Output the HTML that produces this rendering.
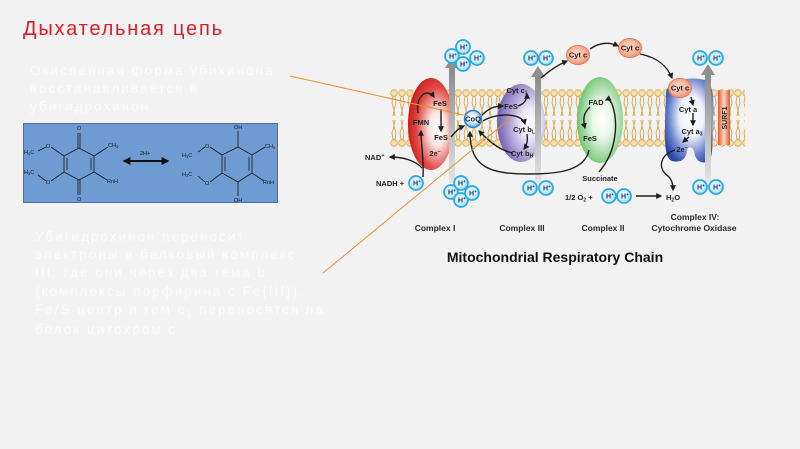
<!DOCTYPE html>
<html><head><meta charset="utf-8">
<style>
html,body{margin:0;padding:0;}
body{width:800px;height:449px;background:#f2f2f2;overflow:hidden;font-family:"Liberation Sans",sans-serif;}
svg{position:absolute;left:0;top:0;}
.w{fill:#fbfbfb;font-size:13.5px;letter-spacing:2px;}
.h{fill:url(#hg);stroke:#2aa8e0;stroke-width:1.7;}
.ht{font-size:7px;font-weight:bold;fill:#10306a;}
.lb{font-size:7.5px;font-weight:bold;fill:#1e1e1e;}
.cl{font-size:8.5px;font-weight:bold;fill:#2a2a2a;}
.ar{fill:none;stroke:#1e1e1e;stroke-width:1.4;marker-end:url(#ah);}
.ch{stroke:#1a1a1a;stroke-width:0.8;fill:none;}
.ct{font-size:5.5px;fill:#1a1a1a;}
</style></head><body>
<svg width="800" height="449" viewBox="0 0 800 449" xmlns="http://www.w3.org/2000/svg">
<defs>
 <radialGradient id="hg" cx="0.45" cy="0.45" r="0.6"><stop offset="0" stop-color="#ffffff"/><stop offset="0.55" stop-color="#d0f0fd"/><stop offset="1" stop-color="#6fcdf3"/></radialGradient>
 <radialGradient id="cg" cx="0.45" cy="0.45" r="0.6"><stop offset="0" stop-color="#fde0d4"/><stop offset="0.6" stop-color="#f6b39a"/><stop offset="1" stop-color="#ec8a6c"/></radialGradient>
 <radialGradient id="qg" cx="0.45" cy="0.45" r="0.6"><stop offset="0" stop-color="#ffffff"/><stop offset="0.55" stop-color="#cfe9fb"/><stop offset="1" stop-color="#3b9be0"/></radialGradient>
 <radialGradient id="g1" cx="0.64" cy="0.55" r="0.62"><stop offset="0" stop-color="#ffffff"/><stop offset="0.3" stop-color="#fbe3e0"/><stop offset="0.72" stop-color="#e04c48"/><stop offset="1" stop-color="#cc1f1f"/></radialGradient>
 <radialGradient id="g3" cx="0.7" cy="0.5" r="0.65"><stop offset="0" stop-color="#ffffff"/><stop offset="0.3" stop-color="#ece8f6"/><stop offset="0.75" stop-color="#a296d0"/><stop offset="1" stop-color="#7a69b6"/></radialGradient>
 <radialGradient id="g2" cx="0.55" cy="0.5" r="0.62"><stop offset="0" stop-color="#ffffff"/><stop offset="0.35" stop-color="#e8f6e8"/><stop offset="0.75" stop-color="#8fd18f"/><stop offset="1" stop-color="#4cb74c"/></radialGradient>
 <radialGradient id="g4" cx="0.55" cy="0.45" r="0.62"><stop offset="0" stop-color="#ffffff"/><stop offset="0.4" stop-color="#eef1fa"/><stop offset="0.75" stop-color="#6f86cf"/><stop offset="1" stop-color="#2a4aa8"/></radialGradient>
 <linearGradient id="gr" x1="0" y1="1" x2="0" y2="0"><stop offset="0" stop-color="#e4e4e4"/><stop offset="1" stop-color="#8a8a8a"/></linearGradient>
 <linearGradient id="sg" x1="0" y1="0" x2="1" y2="0"><stop offset="0" stop-color="#e4572e"/><stop offset="0.5" stop-color="#fcd8c6"/><stop offset="1" stop-color="#e4572e"/></linearGradient>
 <marker id="ah" viewBox="0 0 10 10" refX="8" refY="5" markerWidth="6" markerHeight="6" markerUnits="userSpaceOnUse" orient="auto"><path d="M0,0 L10,5 L0,10 z" fill="#1e1e1e"/></marker>
 <marker id="bh" viewBox="0 0 10 10" refX="8" refY="5" markerWidth="8" markerHeight="8" markerUnits="userSpaceOnUse" orient="auto-start-reverse"><path d="M0,0 L10,5 L0,10 z" fill="#111"/></marker>
 <pattern id="lip" x="390" y="89" width="8" height="58" patternUnits="userSpaceOnUse">
  <path d="M3 7 L2 14 L4 21 L3 27 M5 7 L6 14 L4 21 L5 27 M3 51 L2 44 L4 37 L3 31 M5 51 L6 44 L4 37 L5 31" stroke="#d8ab58" stroke-width="1" fill="none"/>
  <circle cx="4" cy="4" r="3.3" fill="#f6dfa8" stroke="#d8a954" stroke-width="0.8"/>
  <circle cx="4" cy="54" r="3.3" fill="#f6dfa8" stroke="#d8a954" stroke-width="0.8"/>
 </pattern>
</defs>

<!-- Title and texts -->
<text x="23" y="35" font-size="20" letter-spacing="1.8" fill="#dc1c24">Дыхательная цепь</text>
<text class="w" x="30" y="75">Окисленная форма убихинона</text>
<text class="w" x="30" y="93">восстанавливается в</text>
<text class="w" x="30" y="111">убигидрохинон.</text>
<text class="w" x="35" y="241">Убигидрохинон переносит</text>
<text class="w" x="35" y="259">электроны в белковый комплекс</text>
<text class="w" x="35" y="277">III, где они через два гема b</text>
<text class="w" x="35" y="296">(комплексы порфирина с Fe(III)),</text>
<text class="w" x="35" y="314">Fe/S центр и гем c<tspan font-size="9" dy="3">1</tspan><tspan dy="-3"> переносятся на</tspan></text>
<text class="w" x="35" y="334">белок цитохром c.</text>

<!-- chemistry box -->
<rect x="23.5" y="123.5" width="254" height="79" fill="#6e9bd2" stroke="#4d6fa3" stroke-width="1"/>
<g class="ch">
 <path d="M79 148 L94 156 L94 172 L79 180 L64 172 L64 156 Z"/>
 <path d="M67 158 L67 170 M91 158 L91 170"/>
 <path d="M78 133 L78 148 M80 133 L80 148 M78 180 L78 195 M80 180 L80 195"/>
 <path d="M94 156 L108 147 M94 172 L107 180"/>
 <path d="M64 156 L51 147 M46 147 L38 151 M64 172 L51 181 M46 181 L38 175"/>
 <path d="M238 147 L252 155 L252 173 L238 182 L222 173 L222 155 Z"/>
 <path d="M225 157 L225 171 M249 157 L249 171"/>
 <path d="M238 147 L238 131 M238 182 L238 196"/>
 <path d="M252 155 L265 147 M252 173 L264 181"/>
 <path d="M222 155 L210 147 M205 147 L198 152 M222 173 L210 182 M205 182 L198 176"/>
</g>
<line x1="124" y1="161" x2="168" y2="161" stroke="#111" stroke-width="2" marker-end="url(#bh)" marker-start="url(#bh)"/>
<text class="ct" x="140" y="155">2H+</text>
<text class="ct" x="77" y="130">O</text>
<text class="ct" x="77" y="201">O</text>
<text class="ct" x="108" y="147">CH<tspan font-size="4" dy="1">3</tspan></text>
<text class="ct" x="107" y="183">RnH</text>
<text class="ct" x="46" y="148">O</text>
<text class="ct" x="46" y="184">O</text>
<text class="ct" x="24" y="154">H<tspan font-size="4" dy="1">3</tspan><tspan dy="-1">C</tspan></text>
<text class="ct" x="24" y="174">H<tspan font-size="4" dy="1">3</tspan><tspan dy="-1">C</tspan></text>
<text class="ct" x="234" y="129">OH</text>
<text class="ct" x="234" y="202">OH</text>
<text class="ct" x="265" y="148">CH<tspan font-size="4" dy="1">3</tspan></text>
<text class="ct" x="263" y="184">RnH</text>
<text class="ct" x="205" y="148">O</text>
<text class="ct" x="205" y="185">O</text>
<text class="ct" x="182" y="157">H<tspan font-size="4" dy="1">3</tspan><tspan dy="-1">C</tspan></text>
<text class="ct" x="182" y="176">H<tspan font-size="4" dy="1">3</tspan><tspan dy="-1">C</tspan></text>

<!-- membrane -->
<rect x="390" y="89" width="355" height="58" fill="url(#lip)"/>

<!-- complexes -->
<ellipse cx="431" cy="124" rx="23" ry="46" fill="url(#g1)"/>
<ellipse cx="521" cy="123" rx="24" ry="39" fill="url(#g3)"/>
<ellipse cx="600" cy="120" rx="23" ry="43" fill="url(#g2)"/>
<path d="M666 95 C665 80 690 76 705 80 C714 84 714 100 713 120 C712 140 714 158 708 162 C700 164 695 160 694 151 C692 146 688 146 687 151 C686 160 680 163 672 161 C664 158 665 140 665 120 Z" fill="url(#g4)"/>
<rect x="718" y="90" width="12" height="55" fill="url(#sg)"/>
<text x="727" y="118" font-size="7" font-weight="bold" fill="#222" text-anchor="middle" transform="rotate(-90 727 118)">SURF1</text>

<!-- grey arrows -->
<g fill="url(#gr)">
 <rect x="449" y="67" width="6" height="116"/><polygon points="445,68 459,68 452,57" fill="#8f8f8f"/>
 <rect x="535" y="76" width="6" height="106"/><polygon points="531,77 545,77 538,66" fill="#8f8f8f"/>
 <rect x="705" y="74" width="6" height="108"/><polygon points="701,75 715,75 708,64" fill="#8f8f8f"/>
</g>

<!-- cyt c circles and CoQ -->
<ellipse cx="578" cy="55" rx="11.5" ry="9.5" fill="url(#cg)" stroke="#e47a5c" stroke-width="1"/>
<ellipse cx="630" cy="48" rx="11.5" ry="9.5" fill="url(#cg)" stroke="#e47a5c" stroke-width="1"/>
<ellipse cx="680" cy="88" rx="11.5" ry="9.5" fill="url(#cg)" stroke="#e47a5c" stroke-width="1"/>
<circle cx="473" cy="119" r="8.5" fill="url(#qg)" stroke="#2a86d4" stroke-width="1.5"/>

<!-- black arrows -->
<path class="ar" d="M423 177 C424 160 421 145 421 131"/>
<path class="ar" d="M422 168 C415 160 402 157 390 157"/>
<path class="ar" d="M418 113 C415 95 428 88 434 97"/>
<path class="ar" d="M441 109 L441 131"/>
<path class="ar" d="M451 137 C456 131 459 128 464 126"/>
<path class="ar" d="M482 115 C489 108 495 106 503 106"/>
<path class="ar" d="M518 106 C524 104 527 100 527 94"/>
<path class="ar" d="M483 121 C495 113 522 112 525 124"/>
<path class="ar" d="M527 134 C528 140 527 145 524 149"/>
<path class="ar" d="M513 153 C498 150 488 140 479 131"/>
<path class="ar" d="M589 150 C585 170 560 174 530 174 C490 174 470 168 470 132"/>
<path class="ar" d="M541 78 C550 70 560 64 567 61"/>
<path class="ar" d="M590 49 C600 42 610 42 618 46"/>
<path class="ar" d="M640 54 C660 58 668 68 672 78"/>
<path class="ar" d="M691 97 L693 105"/>
<path class="ar" d="M693 113 L693 125"/>
<path class="ar" d="M689 137 L683 142"/>
<path class="ar" d="M675 150 C660 155 657 168 668 176 C672 180 673 184 673 190"/>
<path class="ar" d="M636 196 L661 196"/>
<path class="ar" d="M599 172 C618 150 618 120 612 104 C610 100 608 99 606 100"/>
<path class="ar" d="M590 107 C583 113 583 120 585 128"/>

<!-- labels inside diagram -->
<text class="lb" x="365" y="160">NAD<tspan dy="-3" font-size="5.5">+</tspan></text>
<text class="lb" x="376" y="186">NADH +</text>
<text class="lb" x="421" y="125" text-anchor="middle">FMN</text>
<text class="lb" x="440" y="106" text-anchor="middle">FeS</text>
<text class="lb" x="441" y="140" text-anchor="middle">FeS</text>
<text class="lb" x="435" y="156" text-anchor="middle">2e<tspan dy="-3" font-size="5">−</tspan></text>
<text class="lb" x="473" y="121.5" text-anchor="middle" font-size="6">CoQ</text>
<text class="lb" x="517" y="93" text-anchor="middle" font-size="7">Cyt c<tspan font-size="5" dy="1.5">1</tspan></text>
<text class="lb" x="511" y="109" text-anchor="middle">FeS</text>
<text class="lb" x="524" y="132" text-anchor="middle" font-size="7">Cyt b<tspan font-size="5" dy="1.5">L</tspan></text>
<text class="lb" x="522" y="156" text-anchor="middle" font-size="7">Cyt b<tspan font-size="5" dy="1.5">H</tspan></text>
<text class="lb" x="578" y="57.5" text-anchor="middle" font-size="7">Cyt c</text>
<text class="lb" x="630" y="50.5" text-anchor="middle" font-size="7">Cyt c</text>
<text class="lb" x="680" y="90.5" text-anchor="middle" font-size="7">Cyt c</text>
<text class="lb" x="688" y="112" text-anchor="middle" font-size="7">Cyt a</text>
<text class="lb" x="692" y="134" text-anchor="middle" font-size="7">Cyt a<tspan font-size="5" dy="1.5">3</tspan></text>
<text class="lb" x="682" y="152" text-anchor="middle">2e<tspan dy="-3" font-size="5">−</tspan></text>
<text class="lb" x="596" y="105" text-anchor="middle">FAD</text>
<text class="lb" x="590" y="141" text-anchor="middle">FeS</text>
<text class="lb" x="600" y="181" text-anchor="middle" font-size="7" font-weight="normal">Succinate</text>
<text class="lb" x="565" y="200" font-size="7">1/2 O<tspan font-size="5" dy="1.5">2</tspan><tspan dy="-1.5"> +</tspan></text>
<text class="lb" x="666" y="200">H<tspan font-size="5" dy="1.5">2</tspan><tspan dy="-1.5">O</tspan></text>

<!-- H+ circles -->
<g>
 <circle class="h" cx="452" cy="56" r="7"/><circle class="h" cx="463" cy="47" r="7"/><circle class="h" cx="463" cy="64" r="7"/><circle class="h" cx="477" cy="58" r="7"/>
 <circle class="h" cx="451" cy="192" r="7"/><circle class="h" cx="461" cy="183" r="7"/><circle class="h" cx="461" cy="200" r="7"/><circle class="h" cx="472" cy="193" r="7"/>
 <circle class="h" cx="416" cy="183" r="7"/>
 <circle class="h" cx="531" cy="58" r="7"/><circle class="h" cx="546" cy="58" r="7"/>
 <circle class="h" cx="530" cy="188" r="7"/><circle class="h" cx="546" cy="188" r="7"/>
 <circle class="h" cx="700" cy="58" r="7"/><circle class="h" cx="716" cy="58" r="7"/>
 <circle class="h" cx="700" cy="187" r="7"/><circle class="h" cx="716" cy="187" r="7"/>
 <circle class="h" cx="609" cy="196" r="7"/><circle class="h" cx="624" cy="196" r="7"/>
</g>
<g class="ht">
 <text x="449" y="58.5">H<tspan dy="-2.5" font-size="4.5">+</tspan></text>
 <text x="460" y="49.5">H<tspan dy="-2.5" font-size="4.5">+</tspan></text>
 <text x="460" y="66.5">H<tspan dy="-2.5" font-size="4.5">+</tspan></text>
 <text x="474" y="60.5">H<tspan dy="-2.5" font-size="4.5">+</tspan></text>
 <text x="448" y="194.5">H<tspan dy="-2.5" font-size="4.5">+</tspan></text>
 <text x="458" y="185.5">H<tspan dy="-2.5" font-size="4.5">+</tspan></text>
 <text x="458" y="202.5">H<tspan dy="-2.5" font-size="4.5">+</tspan></text>
 <text x="469" y="195.5">H<tspan dy="-2.5" font-size="4.5">+</tspan></text>
 <text x="413" y="185.5">H<tspan dy="-2.5" font-size="4.5">+</tspan></text>
 <text x="528" y="60.5">H<tspan dy="-2.5" font-size="4.5">+</tspan></text>
 <text x="543" y="60.5">H<tspan dy="-2.5" font-size="4.5">+</tspan></text>
 <text x="527" y="190.5">H<tspan dy="-2.5" font-size="4.5">+</tspan></text>
 <text x="543" y="190.5">H<tspan dy="-2.5" font-size="4.5">+</tspan></text>
 <text x="697" y="60.5">H<tspan dy="-2.5" font-size="4.5">+</tspan></text>
 <text x="713" y="60.5">H<tspan dy="-2.5" font-size="4.5">+</tspan></text>
 <text x="697" y="189.5">H<tspan dy="-2.5" font-size="4.5">+</tspan></text>
 <text x="713" y="189.5">H<tspan dy="-2.5" font-size="4.5">+</tspan></text>
 <text x="606" y="198.5">H<tspan dy="-2.5" font-size="4.5">+</tspan></text>
 <text x="621" y="198.5">H<tspan dy="-2.5" font-size="4.5">+</tspan></text>
</g>

<!-- complex labels -->
<text class="cl" x="435" y="231" text-anchor="middle">Complex I</text>
<text class="cl" x="522" y="231" text-anchor="middle">Complex III</text>
<text class="cl" x="603" y="231" text-anchor="middle">Complex II</text>
<text class="cl" x="695" y="220" text-anchor="middle">Complex IV:</text>
<text class="cl" x="694" y="231" text-anchor="middle">Cytochrome Oxidase</text>
<text x="555" y="262" text-anchor="middle" font-size="14" font-weight="bold" fill="#111">Mitochondrial Respiratory Chain</text>

<!-- orange pointer lines -->
<line x1="290" y1="76" x2="468" y2="116" stroke="#e8902a" stroke-width="1"/>
<line x1="323" y1="273" x2="512" y2="117" stroke="#e8902a" stroke-width="1"/>
</svg>
</body></html>
